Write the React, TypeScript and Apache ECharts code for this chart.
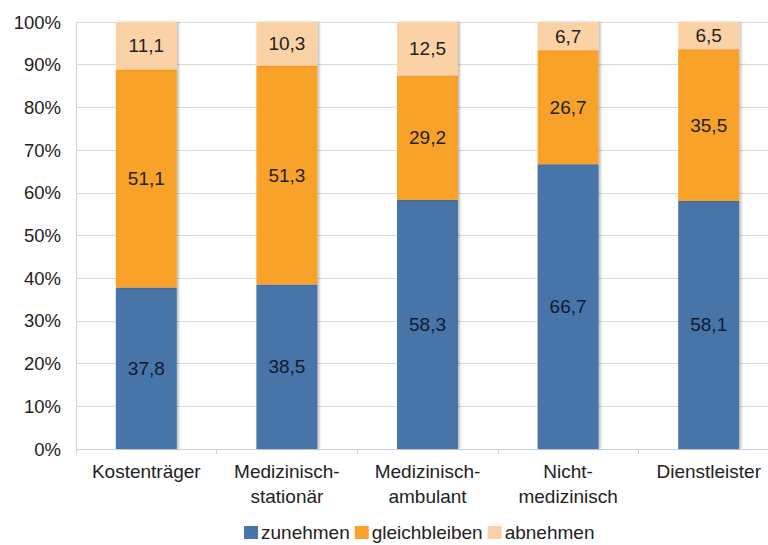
import React, { useEffect, useRef } from "react";
import * as echarts from "echarts";

const categories = [
  "Kostenträger",
  "Medizinisch-\nstationär",
  "Medizinisch-\nambulant",
  "Nicht-\nmedizinisch",
  "Dienstleister",
];
const zunehmen = [37.8, 38.5, 58.3, 66.7, 58.1];
const gleichbleiben = [51.1, 51.3, 29.2, 26.7, 35.5];
const abnehmen = [11.1, 10.3, 12.5, 6.7, 6.5];
const seriesNames = ["zunehmen", "gleichbleiben", "abnehmen"];
const colors = ["#4675A7", "#F9A229", "#FBD2A5"];

const FONT = "'Liberation Sans', Arial, sans-serif";

export default function App() {
  const ref = useRef<HTMLDivElement>(null);

  useEffect(() => {
    if (!ref.current) return;
    const chart = echarts.init(ref.current, null, { renderer: "svg" });
    const values = [zunehmen, gleichbleiben, abnehmen];
    chart.setOption({
      animation: false,
      textStyle: { fontFamily: FONT },
      grid: { left: 76, top: 22, width: 703, height: 427, outerBoundsMode: "none" },
      legend: {
        data: seriesNames,
        left: 244,
        top: 523,
        padding: 0,
        itemWidth: 14,
        itemHeight: 13,
        itemGap: 5,
        icon: "rect",
        textStyle: {
          fontSize: 19,
          lineHeight: 17,
          color: "#222",
          fontFamily: FONT,
          padding: [0, 0, 0, -2],
        },
      },
      xAxis: {
        type: "category",
        data: categories,
        axisLine: { lineStyle: { color: "#c9d3de" } },
        axisTick: { show: true, length: 5, lineStyle: { color: "#c9d3de" } },
        axisLabel: {
          fontSize: 19,
          color: "#222",
          margin: 10,
          lineHeight: 25,
          interval: 0,
          fontFamily: FONT,
        },
      },
      yAxis: {
        type: "value",
        min: 0,
        max: 100,
        interval: 10,
        axisLine: { show: true, lineStyle: { color: "#c9d3de" } },
        axisTick: { show: false },
        splitLine: { lineStyle: { color: "#dadada" } },
        axisLabel: {
          formatter: "{value}%",
          fontSize: 18.5,
          color: "#222",
          margin: 15,
          fontFamily: FONT,
        },
      },
      series: seriesNames.map((name, i) => ({
        name,
        type: "bar",
        stack: "total",
        barWidth: 61,
        data: values[i],
        itemStyle: {
          color: colors[i],
          shadowColor: "rgba(0,0,0,0.25)",
          shadowOffsetX: 2,
          shadowBlur: 2,
        },
        label: {
          show: true,
          position: "inside",
          fontSize: 19,
          color: i === 0 ? "#111a33" : "#222",
          fontFamily: FONT,
          formatter: (p: any) => String(p.value).replace(".", ","),
        },
      })),
    });
    return () => chart.dispose();
  }, []);

  return (
    <div
      ref={ref}
      style={{ position: "absolute", left: 0, top: 0, width: 768, height: 545, overflow: "hidden" }}
    />
  );
}
